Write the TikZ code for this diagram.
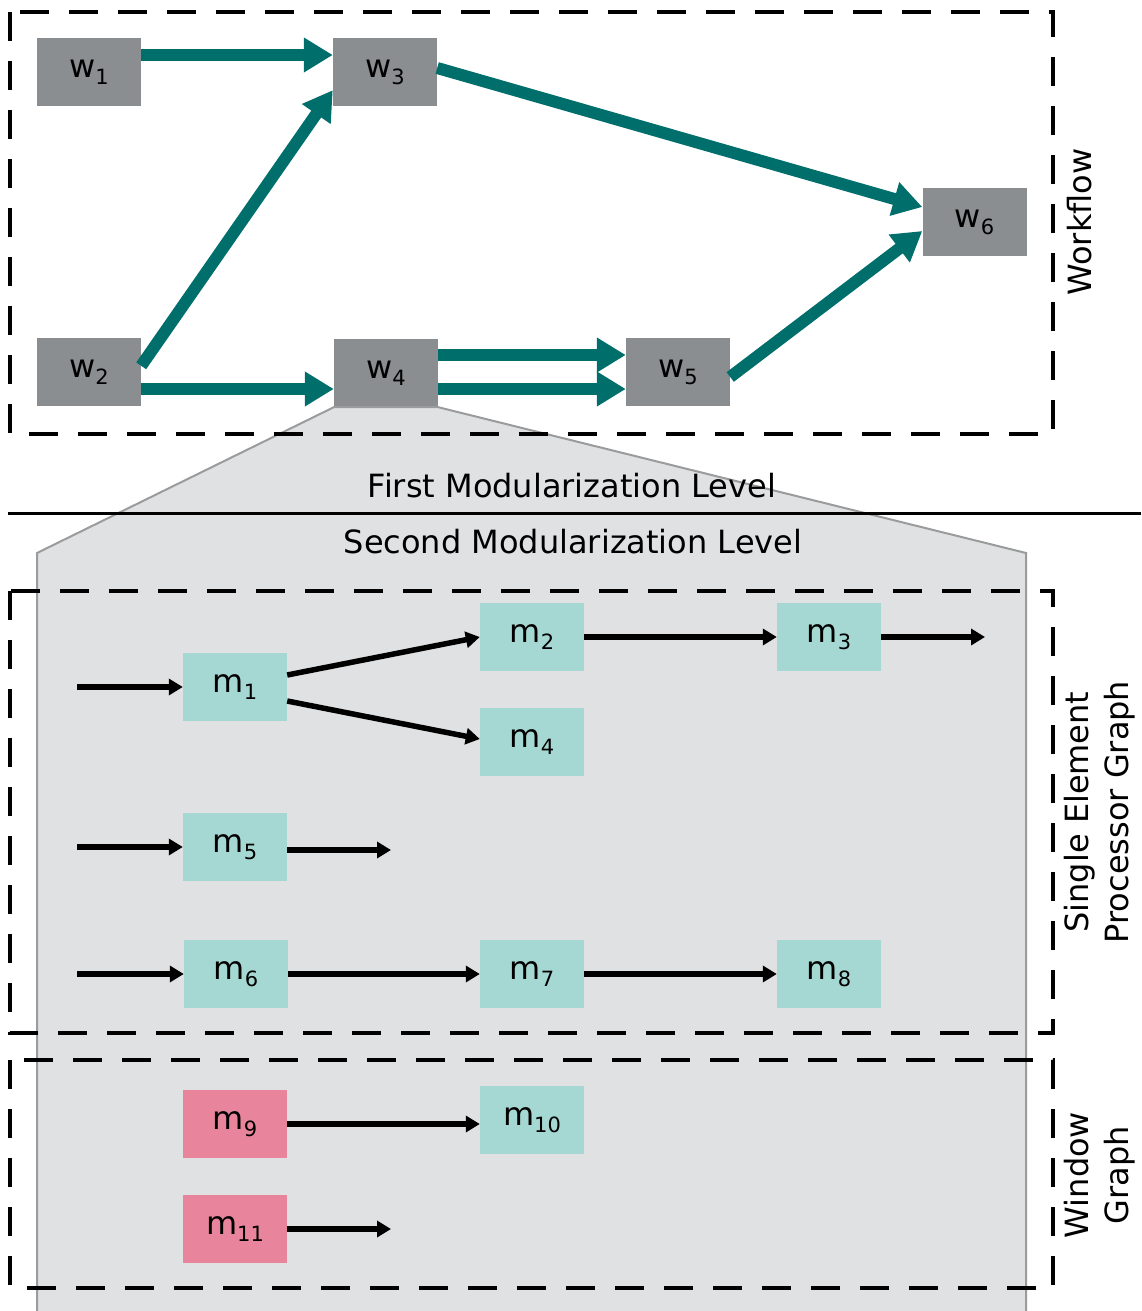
\documentclass[tikz,border=0pt]{standalone}
\usepackage{fontspec}
\setmainfont{DejaVu Sans}
\usetikzlibrary{arrows.meta}

\definecolor{wfgray}{HTML}{8A8E91}
\definecolor{wfteal}{HTML}{006E6B}
\definecolor{modteal}{HTML}{A5D8D3}
\definecolor{modpink}{HTML}{E8849B}
\definecolor{zoomfill}{HTML}{E0E1E3}
\definecolor{zoomedge}{HTML}{9A9B9D}

% letter with a lowered, smaller index
\newcommand\idx[2]{#1\raisebox{-7pt}{\fontsize{21pt}{21pt}\selectfont #2}}

\tikzset{
  every node/.style={font=\fontsize{32pt}{40pt}\selectfont},
  wnode/.style={fill=wfgray, minimum width=104pt, minimum height=68pt, inner sep=0pt},
  mnode/.style={fill=modteal, minimum width=104pt, minimum height=68pt, inner sep=0pt},
  pnode/.style={fill=modpink, minimum width=104pt, minimum height=68pt, inner sep=0pt},
  flow/.style={wfteal, line width=12pt, -{Triangle[length=29pt, width=33pt]}},
  edge/.style={black, line width=5.5pt, -{Triangle[length=14pt, width=16pt]}},
  groupbox/.style={black, line width=4pt, dash pattern=on 29pt off 20pt},
  sidelabel/.style={rotate=90, align=center, anchor=center},
}

\begin{document}
\begin{tikzpicture}[x=1pt, y=-1pt]
  \useasboundingbox (0,0) rectangle (1141,1311);

  % workflow tasks
  \node[wnode] (w1) at (89,72)    {\idx{w}{1}};
  \node[wnode] (w3) at (385,72)   {\idx{w}{3}};
  \node[wnode] (w2) at (89,372)   {\idx{w}{2}};
  \node[wnode] (w4) at (386,373)  {\idx{w}{4}};
  \node[wnode] (w5) at (678,372)  {\idx{w}{5}};
  \node[wnode] (w6) at (974.5,222){\idx{w}{6}};

  % zoomed-out region below task w4
  \fill[zoomfill, draw=zoomedge, line width=2pt]
    (w4.south west) -- (37,553) -- (37,1313) -- (1026,1313) -- (1026,553) -- (w4.south east) -- cycle;

  % workflow edges
  \draw[flow] ([yshift=17pt]w1.east) -- ([yshift=17pt]w3.west);
  \draw[flow] ([yshift=-28pt]w2.north east) -- ([yshift=16pt]w3.south west);
  \draw[flow] ([yshift=-17pt]w2.east) -- ([yshift=-16pt]w4.west);
  \draw[flow] ([yshift=18pt]w4.east) -- ([yshift=17pt]w5.west);
  \draw[flow] ([yshift=-16pt]w4.east) -- ([yshift=-17pt]w5.west);
  \draw[flow] ([yshift=4pt]w3.east) -- ([yshift=15pt]w6.west);
  \draw[flow] ([yshift=-5pt]w5.east) -- ([yshift=-9pt]w6.west);

  % group frames
  \draw[groupbox] (10,12) rectangle (1053,434);
  \draw[groupbox] (10,591) rectangle (1053,1033);
  \draw[groupbox] (10,1060) rectangle (1053,1288);

  % level separator
  \draw[line width=3pt] (8,513) -- (1141,513);
  \node (lvl1) at (572,486) {First Modularization Level};
  \node (lvl2) at (573,542) {Second Modularization Level};

  % side labels
  \node[sidelabel] (lwf) at (1080,222) {Workflow};
  \node[sidelabel] (lsep) at (1100,812) {Single Element\\Processor Graph};
  \node[sidelabel] (lwin) at (1100,1175) {Window\\Graph};

  % modules
  \node[mnode] (m1)  at (235,687)  {\idx{m}{1}};
  \node[mnode] (m2)  at (532,637)  {\idx{m}{2}};
  \node[mnode] (m3)  at (829,637)  {\idx{m}{3}};
  \node[mnode] (m4)  at (532,742)  {\idx{m}{4}};
  \node[mnode] (m5)  at (235,847)  {\idx{m}{5}};
  \node[mnode] (m6)  at (236,974)  {\idx{m}{6}};
  \node[mnode] (m7)  at (532,974)  {\idx{m}{7}};
  \node[mnode] (m8)  at (829,974)  {\idx{m}{8}};
  \node[pnode] (m9)  at (235,1124) {\idx{m}{9}};
  \node[mnode] (m10) at (532,1120) {\idx{m}{10}};
  \node[pnode] (m11) at (235,1229) {\idx{m}{11}};

  % open ends of module edges
  \coordinate (in1)  at (77,687);
  \coordinate (in5)  at (77,847);
  \coordinate (in6)  at (77,974);
  \coordinate (out3) at (985,637);
  \coordinate (out5) at (391,850);
  \coordinate (out11) at (391,1229);

  % module edges
  \draw[edge] (in1) -- (m1.west);
  \draw[edge] ([yshift=12pt]m1.east) -- (m2.west);
  \draw[edge] ([yshift=-14pt]m1.east) -- ([yshift=3pt]m4.west);
  \draw[edge] (m2.east) -- (m3.west);
  \draw[edge] (m3.east) -- (out3);
  \draw[edge] (in5) -- (m5.west);
  \draw[edge] (m5.east |- out5) -- (out5);
  \draw[edge] (in6) -- (m6.west);
  \draw[edge] (m6.east) -- (m7.west);
  \draw[edge] (m7.east) -- (m8.west);
  \draw[edge] (m9.east) -- (m10.west |- m9.east);
  \draw[edge] (m11.east) -- (out11);
\end{tikzpicture}
\end{document}
